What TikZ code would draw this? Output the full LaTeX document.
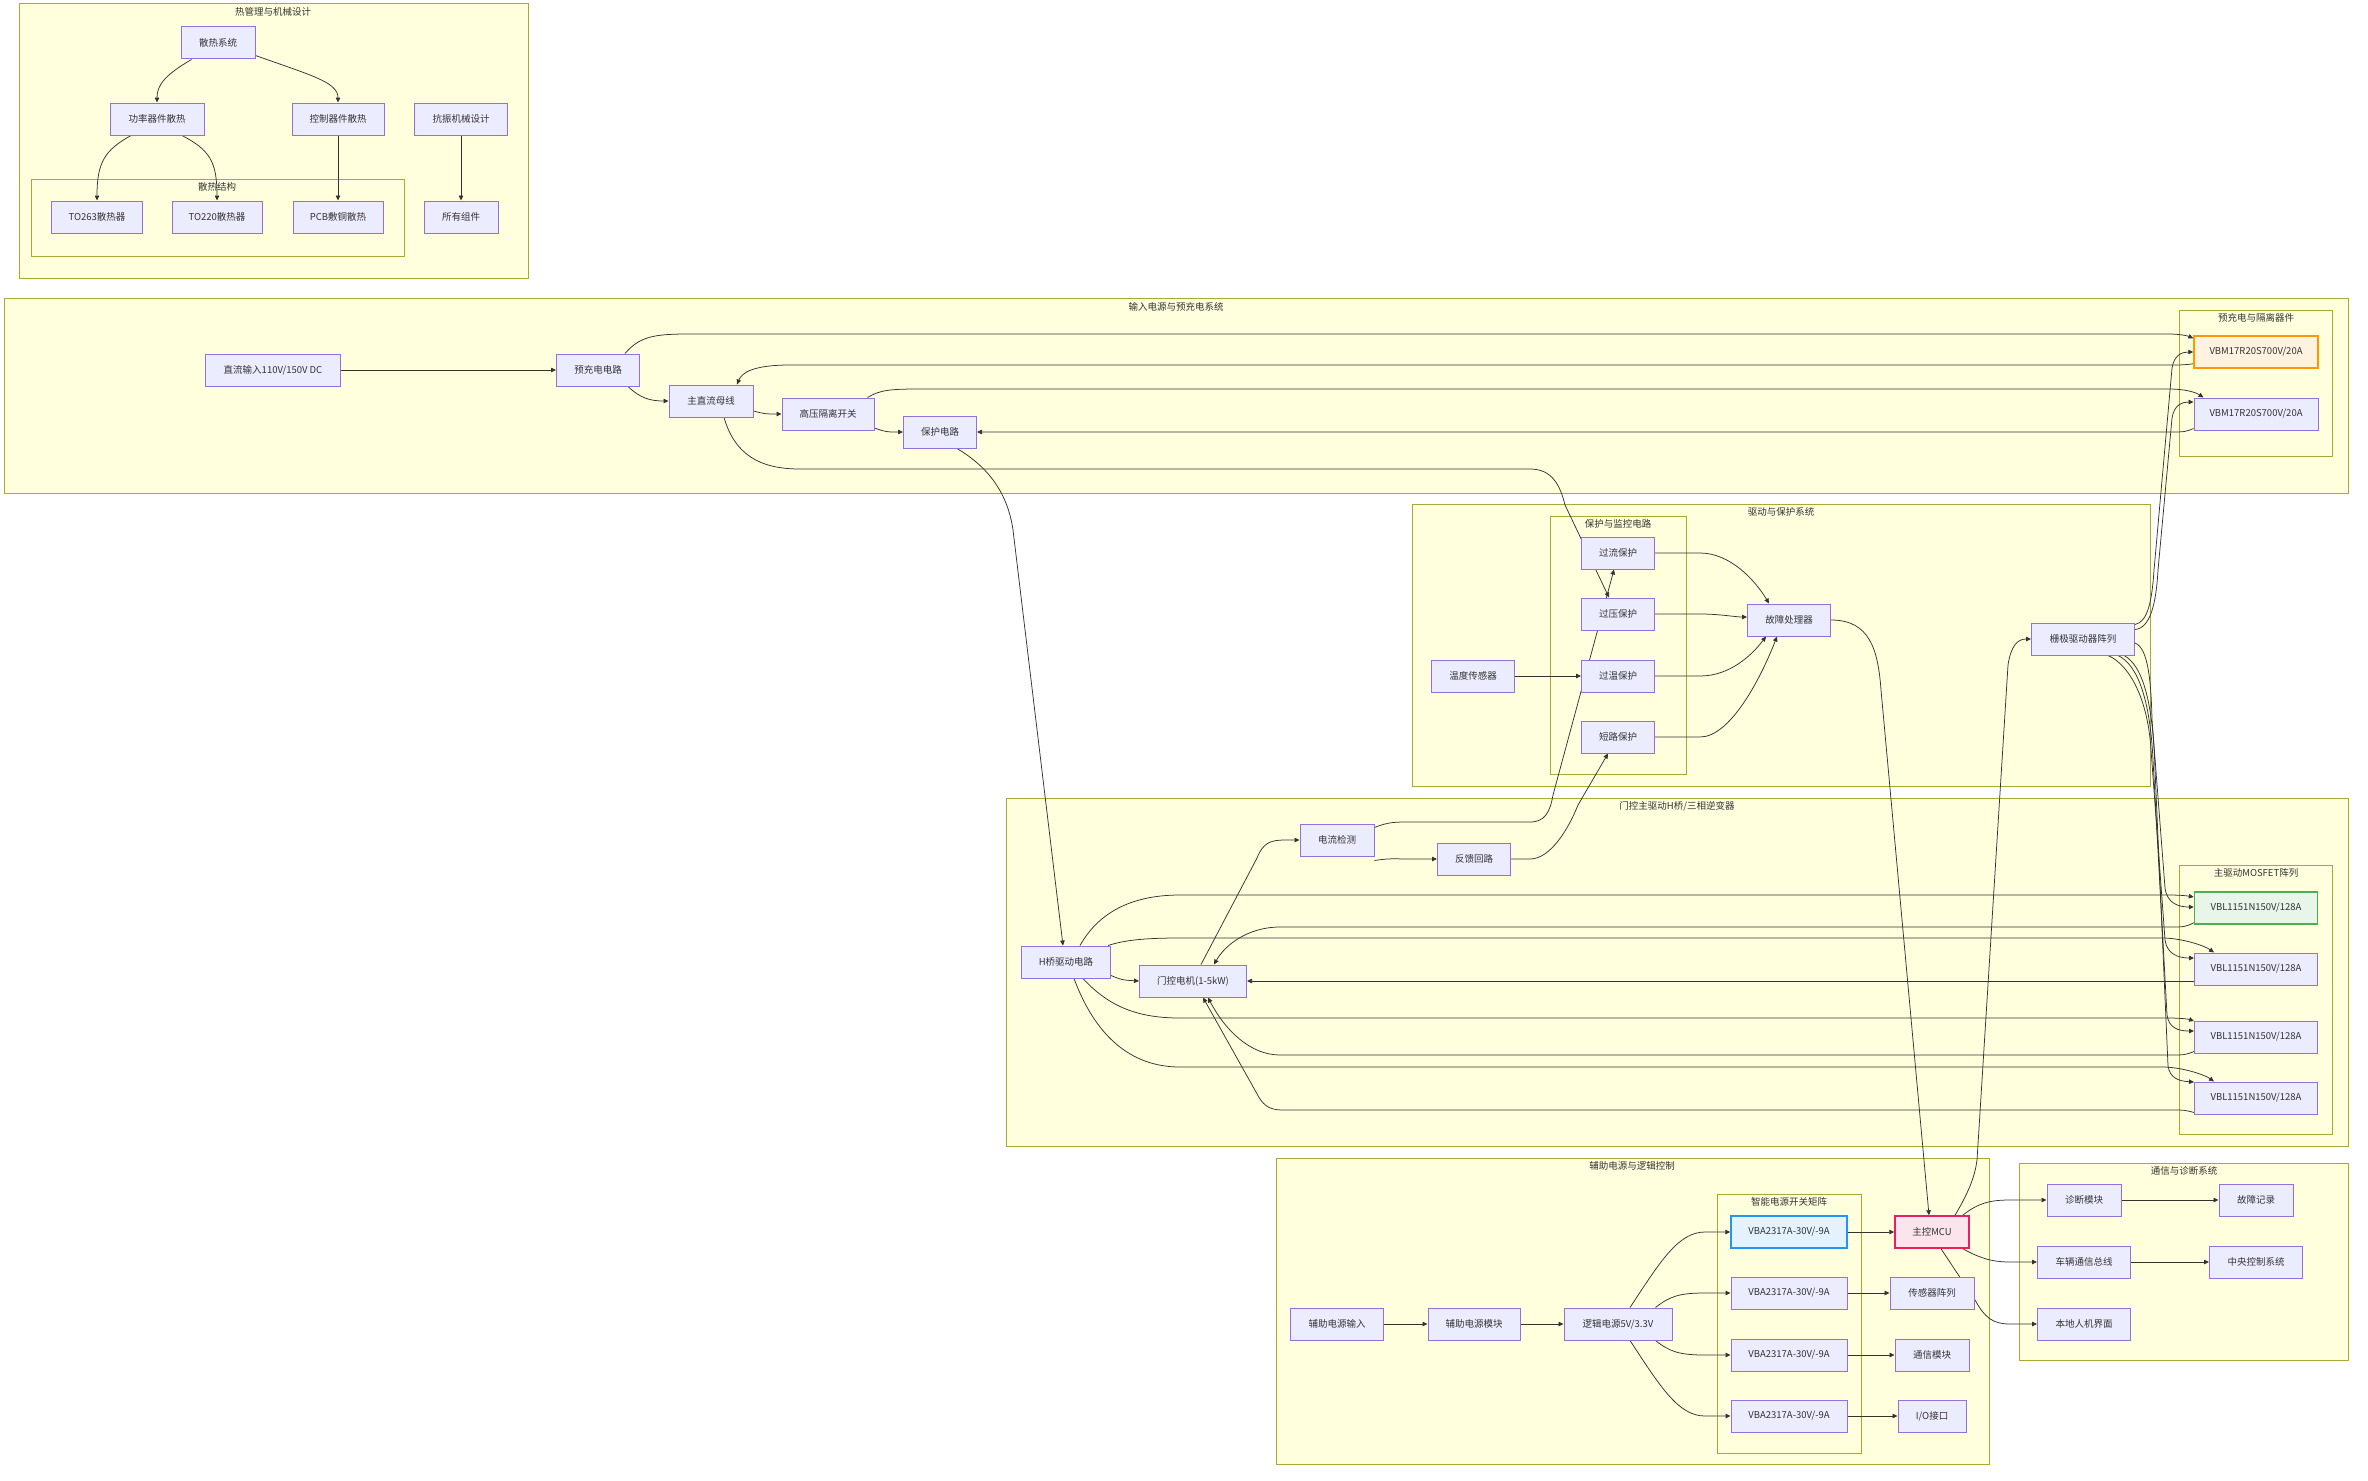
\documentclass[tikz,border=0pt]{standalone}
\usepackage{fontspec}
\setmainfont{Noto Sans CJK SC}
\usetikzlibrary{arrows.meta}
\definecolor{ndfill}{HTML}{ECECFF}
\definecolor{ndline}{HTML}{9370DB}
\definecolor{clfill}{HTML}{FFFFDE}
\definecolor{clline}{HTML}{AAAA33}
\definecolor{lnc}{HTML}{333333}
\definecolor{txt}{HTML}{333333}
\definecolor{orfill}{HTML}{FFF3E0}
\definecolor{orline}{HTML}{FF9800}
\definecolor{grfill}{HTML}{E8F5E9}
\definecolor{grline}{HTML}{4CAF50}
\definecolor{blfill}{HTML}{E3F2FD}
\definecolor{blline}{HTML}{2196F3}
\definecolor{pkfill}{HTML}{FCE4EC}
\definecolor{pkline}{HTML}{E91E63}
\pgfdeclarelayer{bg}
\pgfdeclarelayer{edges}
\pgfsetlayers{bg,edges,main}
\tikzset{
  nd/.style={draw=ndline, fill=ndfill, line width=1pt, minimum height=32pt, inner sep=0pt, font=\fontsize{9.5pt}{11pt}\selectfont, text=txt},
  orangeN/.style={draw=orline, fill=orfill, line width=1.5pt},
  greenN/.style={draw=grline, fill=grfill, line width=1.5pt},
  blueN/.style={draw=blline, fill=blfill, line width=1.5pt},
  pinkN/.style={draw=pkline, fill=pkfill, line width=1.5pt},
  clus/.style={draw=clline, fill=clfill, line width=1pt},
  ctitle/.style={font=\fontsize{9.5pt}{11pt}\selectfont, text=txt, inner sep=0pt},
  conn/.style={draw=lnc, line width=0.75pt, -{Triangle[length=5pt,width=4.5pt]}}
}
\begin{document}
\begin{tikzpicture}[x=1pt,y=-1pt]
\useasboundingbox (0,0) rectangle (2368,1480);

% ---------- clusters ----------
\begin{pgfonlayer}{bg}
\fill[white] (0,0) rectangle (2368,1480);
\draw[clus] (19,4) rectangle (528,278);
\draw[clus] (31,179) rectangle (404,256);
\draw[clus] (4,298) rectangle (2348,493);
\draw[clus] (2179,310) rectangle (2332,456);
\draw[clus] (1412,504) rectangle (2150,786);
\draw[clus] (1550,516) rectangle (1686,774);
\draw[clus] (1006,798) rectangle (2348,1146);
\draw[clus] (2179,865) rectangle (2332,1134);
\draw[clus] (1276,1158) rectangle (1989,1464);
\draw[clus] (1717,1194) rectangle (1861,1453);
\draw[clus] (2019,1163) rectangle (2348,1360);
\end{pgfonlayer}
\node[ctitle] (t1) at (273,12) {热管理与机械设计};
\node[ctitle] (t1a) at (217,187) {散热结构};
\node[ctitle] (t2) at (1176,307) {输入电源与预充电系统};
\node[ctitle] (t2a) at (2256,318) {预充电与隔离器件};
\node[ctitle] (t3) at (1781,512) {驱动与保护系统};
\node[ctitle] (t3a) at (1618,524) {保护与监控电路};
\node[ctitle] (t4) at (1677,806) {门控主驱动H桥/三相逆变器};
\node[ctitle] (t4a) at (2256,873) {主驱动MOSFET阵列};
\node[ctitle] (t5) at (1632,1166) {辅助电源与逻辑控制};
\node[ctitle] (t5a) at (1789,1202) {智能电源开关矩阵};
\node[ctitle] (t6) at (2184,1171) {通信与诊断系统};

% ---------- nodes ----------
\node[nd,minimum width=74pt] (sr) at (218,43) {散热系统};
\node[nd,minimum width=94pt] (glsr) at (157,119) {功率器件散热};
\node[nd,minimum width=92pt] (kzsr) at (338,119) {控制器件散热};
\node[nd,minimum width=93pt] (kz) at (461,119) {抗振机械设计};
\node[nd,minimum width=91pt] (to263) at (97,217) {TO263散热器};
\node[nd,minimum width=90pt] (to220) at (217,217) {TO220散热器};
\node[nd,minimum width=90pt] (pcb) at (338,217) {PCB敷铜散热};
\node[nd,minimum width=74pt] (allc) at (461,217) {所有组件};

\node[nd,minimum width=135pt] (dcin) at (273,370) {直流输入110V/150V DC};
\node[nd,minimum width=83pt] (prech) at (598,370) {预充电电路};
\node[nd,minimum width=84pt] (bus) at (711,401) {主直流母线};
\node[nd,minimum width=92pt] (hvsw) at (828,414) {高压隔离开关};
\node[nd,minimum width=73pt] (prot) at (940,432) {保护电路};
\node[nd,orangeN,minimum width=124pt] (vbm1) at (2256,352) {VBM17R20S700V/20A};
\node[nd,minimum width=124pt] (vbm2) at (2256,414) {VBM17R20S700V/20A};

\node[nd,minimum width=73pt] (oc) at (1618,553) {过流保护};
\node[nd,minimum width=73pt] (ov) at (1618,614) {过压保护};
\node[nd,minimum width=73pt] (ot) at (1618,676) {过温保护};
\node[nd,minimum width=73pt] (sc) at (1618,737) {短路保护};
\node[nd,minimum width=83pt] (temp) at (1473,676) {温度传感器};
\node[nd,minimum width=83pt] (fault) at (1789,620) {故障处理器};
\node[nd,minimum width=103pt] (gate) at (2083,639) {栅极驱动器阵列};

\node[nd,minimum width=74pt] (cur) at (1337,840) {电流检测};
\node[nd,minimum width=73pt] (fb) at (1474,859) {反馈回路};
\node[nd,minimum width=89pt] (hb) at (1066,962) {H桥驱动电路};
\node[nd,minimum width=107pt] (motor) at (1193,981) {门控电机(1-5kW)};
\node[nd,greenN,minimum width=123pt] (vbl1) at (2256,908) {VBL1151N150V/128A};
\node[nd,minimum width=123pt] (vbl2) at (2256,969) {VBL1151N150V/128A};
\node[nd,minimum width=123pt] (vbl3) at (2256,1037) {VBL1151N150V/128A};
\node[nd,minimum width=123pt] (vbl4) at (2256,1098) {VBL1151N150V/128A};

\node[nd,minimum width=93pt] (auxin) at (1337,1324) {辅助电源输入};
\node[nd,minimum width=92pt] (auxmod) at (1474,1324) {辅助电源模块};
\node[nd,minimum width=108pt] (logic) at (1618,1324) {逻辑电源5V/3.3V};
\node[nd,blueN,minimum width=116pt] (vba1) at (1789,1232) {VBA2317A-30V/-9A};
\node[nd,minimum width=116pt] (vba2) at (1789,1293) {VBA2317A-30V/-9A};
\node[nd,minimum width=116pt] (vba3) at (1789,1355) {VBA2317A-30V/-9A};
\node[nd,minimum width=116pt] (vba4) at (1789,1416) {VBA2317A-30V/-9A};
\node[nd,pinkN,minimum width=74pt] (mcu) at (1932,1232) {主控MCU};
\node[nd,minimum width=84pt] (sensor) at (1932,1293) {传感器阵列};
\node[nd,minimum width=74pt] (comm) at (1932,1355) {通信模块};
\node[nd,minimum width=68pt] (io) at (1932,1416) {I/O接口};

\node[nd,minimum width=74pt] (diag) at (2084,1200) {诊断模块};
\node[nd,minimum width=74pt] (frec) at (2256,1200) {故障记录};
\node[nd,minimum width=93pt] (bus2) at (2084,1262) {车辆通信总线};
\node[nd,minimum width=93pt] (central) at (2256,1262) {中央控制系统};
\node[nd,minimum width=93pt] (hmi) at (2084,1324) {本地人机界面};

% ---------- connectors ----------
\begin{pgfonlayer}{edges}
% thermal
\draw[conn] ([xshift=11pt]sr.south west) .. controls (165,75) and (157,85) .. (glsr.north);
\draw[conn] ([yshift=4pt]sr.south east) .. controls (310,75) and (338,82) .. (kzsr.north);
\draw[conn] ([xshift=-26pt]glsr.south) .. controls (105,150) and (97,162) .. (to263.north);
\draw[conn] ([xshift=25pt]glsr.south) .. controls (210,150) and (217,162) .. (to220.north);
\draw[conn] (kzsr.south) -- (pcb.north);
\draw[conn] (kz.south) -- (allc.north);
% input
\draw[conn] (dcin.east) -- (prech.west);
\draw[conn] ([xshift=-12pt]prech.south east) .. controls (640,398) and (650,401) .. (bus.west);
\draw[conn] ([yshift=-10pt]bus.east) .. controls (765,414) .. (hvsw.west);
\draw[conn] ([yshift=-14pt]hvsw.east) .. controls (886,432) .. (prot.west);
\draw[conn] ([xshift=-15pt]prech.north east) .. controls (640,336) and (655,334) .. (690,334) -- (2168,334) .. controls (2180,334) and (2188,336) .. ([yshift=-3pt]vbm1.north west);
\draw[conn] ([yshift=5pt]vbm1.south west) .. controls (2185,365) and (2180,365) .. (2168,365) -- (790,365) .. controls (755,365) and (742,372) .. ([xshift=26pt]bus.north);
\draw[conn] ([xshift=-7pt]hvsw.north east) .. controls (880,390) and (890,389) .. (920,389) -- (2168,389) .. controls (2185,389) and (2195,392) .. ([xshift=10pt]vbm2.north west);
\draw[conn] ([yshift=2pt]vbm2.south west) .. controls (2185,432) .. (2168,432) -- (prot.east);
\draw[conn] ([xshift=13pt]bus.south) .. controls (735,455) and (760,469) .. (800,469) -- (1530,469) .. controls (1552,469) and (1560,485) .. (1565,505) -- ([xshift=-9pt]ov.north);
\draw[conn] ([xshift=17pt]prot.south) .. controls (990,468) and (1008,495) .. (1013,530) -- ([xshift=-3pt]hb.north);
% drive & protection
\draw[conn] (oc.east) -- (1700,553) .. controls (1730,553) and (1755,580) .. ([xshift=-20pt]fault.north);
\draw[conn] (ov.east) -- (1700,614) .. controls (1720,614) and (1735,617) .. ([yshift=3pt]fault.west);
\draw[conn] (ot.east) -- (1700,676) .. controls (1730,676) and (1752,655) .. ([xshift=-23pt]fault.south);
\draw[conn] (sc.east) -- (1700,737) .. controls (1730,737) and (1760,680) .. ([xshift=-12pt]fault.south);
\draw[conn] (temp.east) -- (ot.west);
\draw[conn] (fault.east) .. controls (1870,620) and (1878,650) .. (1881,690) -- ([xshift=-3pt]mcu.north);
\draw[conn] ([xshift=23pt]mcu.north) .. controls (1970,1190) and (1975,1175) .. (1977,1160) -- (2008,665) .. controls (2011,645) and (2018,639) .. (gate.west);
\draw[conn] ([yshift=-2pt]gate.north east) .. controls (2148,622) and (2152,600) .. (2154,570) -- (2172,368) .. controls (2174,355) and (2182,352) .. (vbm1.west);
\draw[conn] ([yshift=-7pt]gate.north east) .. controls (2150,628) and (2156,605) .. (2158,570) -- (2172,418) .. controls (2174,405) and (2182,402) .. ([yshift=12pt]vbm2.west);
\draw[conn] ([yshift=-4pt]gate.east) .. controls (2148,648) and (2151,680) .. (2152,720) -- (2165,888) .. controls (2167,903) and (2178,907) .. ([yshift=1pt]vbl1.west);
\draw[conn] ([xshift=25pt]gate.south) .. controls (2130,665) and (2148,700) .. (2151,750) -- (2165,940) .. controls (2167,954) and (2178,958) .. ([yshift=11pt]vbl2.west);
\draw[conn] ([xshift=35pt]gate.south) .. controls (2138,665) and (2150,700) .. (2153,760) -- (2167,1015) .. controls (2169,1028) and (2178,1031) .. ([yshift=6pt]vbl3.west);
\draw[conn] ([xshift=41pt]gate.south) .. controls (2142,665) and (2153,700) .. (2155,770) -- (2168,1066) .. controls (2170,1078) and (2178,1081) .. ([yshift=16pt]vbl4.west);
% gate control
\draw[conn] ([xshift=14pt]hb.north) .. controls (1100,910) and (1135,895) .. (1180,895) -- (2168,895) .. controls (2182,895) and (2188,896) .. ([yshift=11pt]vbl1.west);
\draw[conn] ([xshift=-3pt]hb.north east) .. controls (1125,940) and (1145,938) .. (1180,938) -- (2165,938) .. controls (2185,939) and (2205,946) .. ([xshift=20pt]vbl2.north west);
\draw[conn] ([xshift=17pt]hb.south) .. controls (1110,1008) and (1140,1018) .. (1180,1018) -- (2168,1018) .. controls (2180,1018) and (2188,1019) .. ([yshift=16pt]vbl3.west);
\draw[conn] ([xshift=8pt]hb.south) .. controls (1095,1035) and (1130,1067) .. (1180,1067) -- (2165,1067) .. controls (2185,1068) and (2205,1075) .. ([xshift=20pt]vbl4.north west);
\draw[conn] ([yshift=3pt]hb.south east) .. controls (1122,980) .. (motor.west);
\draw[conn] ([yshift=2pt]vbl1.south west) .. controls (2185,927) .. (2168,927) -- (1280,927) .. controls (1248,927) and (1225,945) .. ([xshift=21pt]motor.north);
\draw[conn] ([yshift=-12pt]vbl2.west) .. controls (2185,981) .. (2168,981) -- (motor.east);
\draw[conn] ([yshift=2pt]vbl3.south west) .. controls (2185,1055) .. (2168,1055) -- (1280,1055) .. controls (1250,1055) and (1225,1030) .. ([xshift=15pt]motor.south);
\draw[conn] ([yshift=2pt]vbl4.south west) .. controls (2185,1110) .. (2168,1110) -- (1282,1110) .. controls (1268,1110) and (1262,1104) .. (1256,1092) -- ([xshift=10pt]motor.south);
\draw[conn] ([xshift=8pt]motor.north) -- (1257,858) .. controls (1263,843) and (1270,840) .. (1285,840) -- (cur.west);
\draw[conn] ([yshift=-4pt]cur.south east) .. controls (1390,858) and (1395,859) .. (1410,859) -- (fb.west);
\draw[conn] ([yshift=-4pt]cur.north east) .. controls (1388,822) and (1395,822) .. (1410,822) -- (1530,822) .. controls (1545,822) and (1550,812) .. (1553,795) -- ([xshift=-4pt]oc.south);
\draw[conn] (fb.east) -- (1530,859) .. controls (1550,859) and (1568,830) .. (1578,805) -- ([xshift=-10pt]sc.south);
% aux power
\draw[conn] (auxin.east) -- (auxmod.west);
\draw[conn] (auxmod.east) -- (logic.west);
\draw[conn] ([xshift=12pt]logic.north) .. controls (1660,1262) and (1678,1232) .. (1705,1232) -- (vba1.west);
\draw[conn] ([xshift=-17pt]logic.north east) .. controls (1670,1296) and (1680,1293) .. (1705,1293) -- (vba2.west);
\draw[conn] ([xshift=-17pt]logic.south east) .. controls (1670,1352) and (1680,1355) .. (1705,1355) -- (vba3.west);
\draw[conn] ([xshift=12pt]logic.south) .. controls (1660,1386) and (1678,1416) .. (1705,1416) -- (vba4.west);
\draw[conn] (vba1.east) -- (mcu.west);
\draw[conn] (vba2.east) -- (sensor.west);
\draw[conn] (vba3.east) -- (comm.west);
\draw[conn] (vba4.east) -- (io.west);
% comm
\draw[conn] ([xshift=-7pt]mcu.north east) .. controls (1978,1203) and (1990,1200) .. (2010,1200) -- (diag.west);
\draw[conn] ([xshift=-7pt]mcu.south east) .. controls (1978,1257) and (1990,1262) .. (2010,1262) -- (bus2.west);
\draw[conn] ([xshift=9pt]mcu.south) -- (1975,1300) .. controls (1985,1318) and (1993,1324) .. (2010,1324) -- (hmi.west);
\draw[conn] (diag.east) -- (frec.west);
\draw[conn] (bus2.east) -- (central.west);
\end{pgfonlayer}
\end{tikzpicture}
\end{document}
